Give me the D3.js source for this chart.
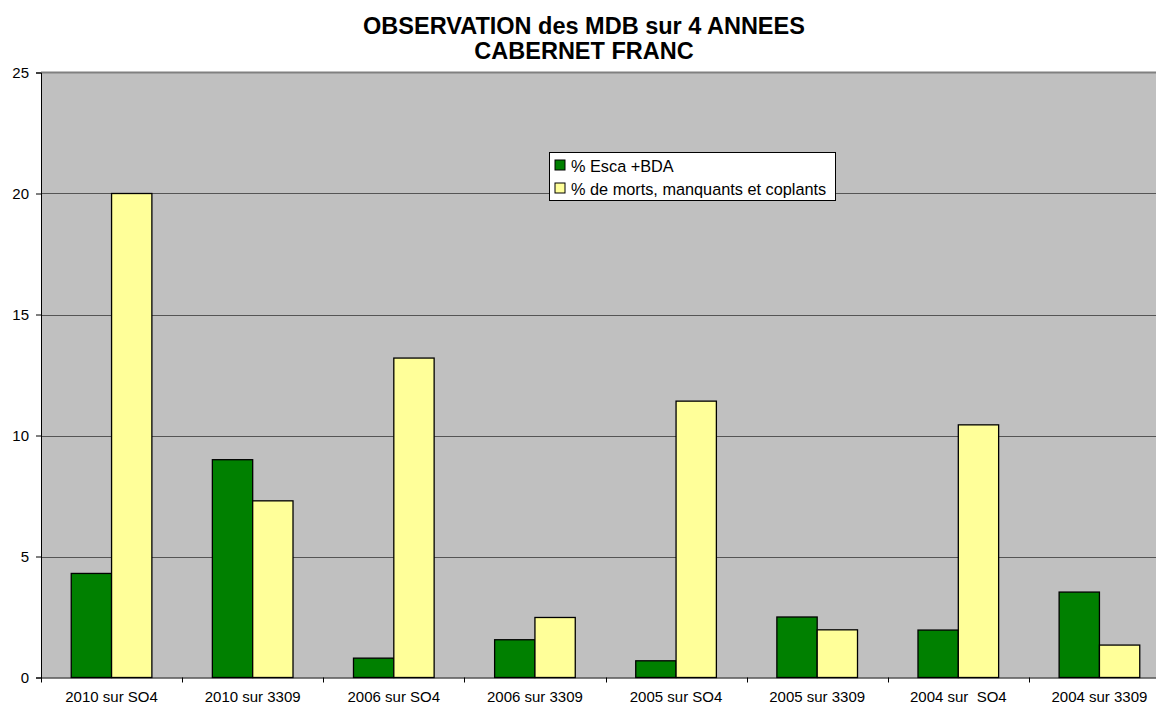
<!DOCTYPE html>
<html>
<head>
<meta charset="utf-8">
<script src="https://cdn.jsdelivr.net/npm/d3@7"></script>
<style>
  html, body { margin: 0; padding: 0; background: #fff; }
  svg { display: block; font-family: Arial, "Liberation Sans", sans-serif; }
</style>
</head>
<body>
<div id="chart"></div>
<script>
const categories = [
  '2010 sur SO4', '2010 sur 3309', '2006 sur SO4', '2006 sur 3309',
  '2005 sur SO4', '2005 sur 3309', '2004 sur  SO4', '2004 sur 3309',
];
const seriesNames = ['% Esca +BDA', '% de morts, manquants et coplants'];
const esca = [4.3, 9.0, 0.8, 1.56, 0.69, 2.5, 1.96, 3.53];
const morts = [20.0, 7.3, 13.2, 2.48, 11.42, 1.97, 10.44, 1.34];
const yTicks = [0, 5, 10, 15, 20, 25];
const titleLines = ['OBSERVATION des MDB sur 4 ANNEES', 'CABERNET FRANC'];

const width = 1156;
const height = 708;
const margin = { left: 41, right: -14, top: 72.5, bottom: 30.5 };
const colors = ['#008000', '#ffff99'];
const fontFamily = 'Arial, "Liberation Sans", sans-serif';

const svg = d3
  .select('#chart')
  .append('svg')
  .attr('width', width)
  .attr('height', height);

const x = d3
  .scaleBand()
  .domain(categories)
  .range([margin.left, width - margin.right]);
const xInner = d3
  .scaleBand()
  .domain(seriesNames)
  .range([0, x.bandwidth()])
  .paddingInner(0)
  .paddingOuter(0.75);
const y = d3
  .scaleLinear()
  .domain([0, 25])
  .range([height - margin.bottom, margin.top]);

// plot area
svg
  .append('rect')
  .attr('x', margin.left)
  .attr('y', margin.top)
  .attr('width', width - margin.right - margin.left)
  .attr('height', y(0) - margin.top)
  .attr('fill', '#c0c0c0');

// grid
svg
  .append('g')
  .selectAll('line')
  .data(yTicks.filter((d) => d > 0 && d < 25))
  .join('line')
  .attr('x1', margin.left)
  .attr('x2', width - margin.right)
  .attr('y1', (d) => Math.round(y(d)) + 0.5)
  .attr('y2', (d) => Math.round(y(d)) + 0.5)
  .attr('stroke', '#555')
  .attr('stroke-width', 1.2);

// top border of plot area
svg
  .append('line')
  .attr('x1', margin.left)
  .attr('x2', width)
  .attr('y1', margin.top)
  .attr('y2', margin.top)
  .attr('stroke', '#808080')
  .attr('stroke-width', 2);

// bars
const data = categories.map((c, i) => ({ cat: c, values: [esca[i], morts[i]] }));
const groups = svg
  .append('g')
  .selectAll('g')
  .data(data)
  .join('g')
  .attr('transform', (d) => `translate(${x(d.cat)},0)`);
groups
  .selectAll('rect')
  .data((d) => d.values.map((v, k) => ({ name: seriesNames[k], v, k })))
  .join('rect')
  .attr('x', (d) => xInner(d.name))
  .attr('width', xInner.bandwidth())
  .attr('y', (d) => y(d.v))
  .attr('height', (d) => y(0) - y(d.v))
  .attr('fill', (d) => colors[d.k])
  .attr('stroke', '#000')
  .attr('stroke-width', 1.3);

// y axis
const yAxis = svg
  .append('g')
  .attr('transform', `translate(${margin.left},0)`)
  .call(d3.axisLeft(y).tickValues(yTicks).tickSize(5).tickPadding(7));
yAxis.select('.domain').attr('stroke', '#000');
yAxis.selectAll('.tick line').attr('stroke', '#000');
yAxis.selectAll('.tick text')
  .attr('font-size', 15)
  .attr('font-family', fontFamily)
  .attr('fill', '#000');

// x axis
const xAxis = svg
  .append('g')
  .attr('transform', `translate(0,${y(0)})`)
  .call(d3.axisBottom(x).tickSize(0).tickPadding(14));
xAxis.select('.domain').attr('stroke', '#000').attr('d', `M${margin.left},0.5H${width}`);
xAxis.selectAll('.tick text')
  .attr('font-size', 15)
  .attr('font-family', fontFamily)
  .attr('fill', '#000')
  .style('white-space', 'pre');
xAxis
  .append('g')
  .selectAll('line')
  .data(categories)
  .join('line')
  .attr('x1', (d) => Math.round(x(d)) + 0.5)
  .attr('x2', (d) => Math.round(x(d)) + 0.5)
  .attr('y1', 0)
  .attr('y2', 5)
  .attr('stroke', '#000');

// title
svg
  .append('g')
  .selectAll('text')
  .data(titleLines)
  .join('text')
  .attr('x', 584)
  .attr('y', (d, i) => 34 + i * 25)
  .attr('text-anchor', 'middle')
  .attr('font-size', 23.5)
  .attr('font-weight', 'bold')
  .text((d) => d);

// legend
const legend = svg.append('g').attr('transform', 'translate(549.5,152.5)');
legend
  .append('rect')
  .attr('width', 286)
  .attr('height', 48)
  .attr('fill', '#fff')
  .attr('stroke', '#000');
const items = legend
  .selectAll('g.item')
  .data(seriesNames)
  .join('g')
  .attr('class', 'item')
  .attr('transform', (d, i) => `translate(5.5,${7.5 + i * 23})`);
items
  .append('rect')
  .attr('width', 10)
  .attr('height', 10)
  .attr('fill', (d, i) => colors[i])
  .attr('stroke', '#000');
items
  .append('text')
  .attr('x', 16)
  .attr('y', 11.5)
  .attr('font-size', 16.3)
  .text((d) => d);
</script>
</body>
</html>
